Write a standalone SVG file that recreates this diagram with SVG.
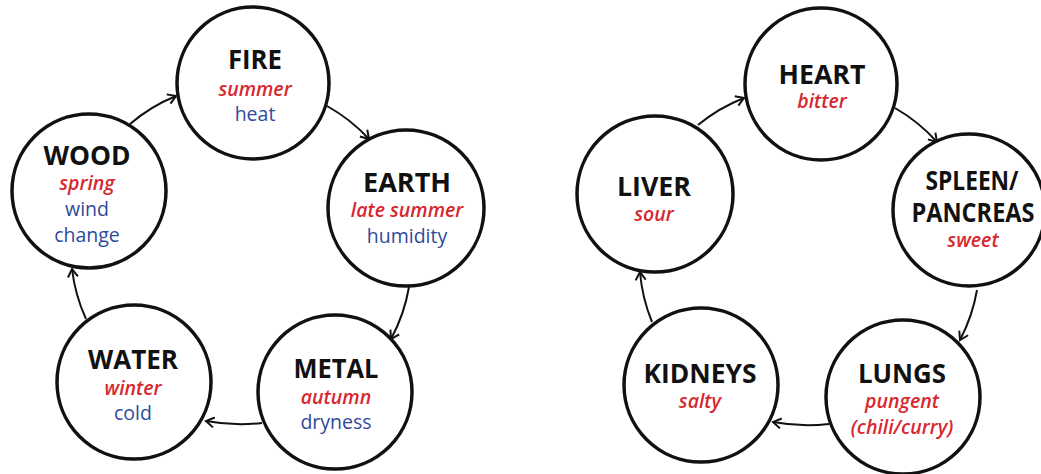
<svg xmlns="http://www.w3.org/2000/svg" width="1041" height="474" viewBox="0 0 1041 474">
  <style>
    .node { fill: #ffffff; stroke: #111111; stroke-width: 3.5; }
    .title { font-family: "Open Sans", "Liberation Sans", sans-serif; font-weight: 700; font-size: 26px; fill: #111111; text-anchor: middle; }
    .red { font-family: "Open Sans", "Liberation Sans", sans-serif; font-weight: 600; font-style: italic; font-size: 19.5px; fill: #d7282f; text-anchor: middle; }
    .blue { font-family: "Open Sans", "Liberation Sans", sans-serif; font-weight: 400; font-size: 19.5px; fill: #2e4a9a; text-anchor: middle; }
    .conn { fill: none; stroke: #111111; stroke-width: 2; }
  </style>
  <defs>
    <marker id="arrow" markerUnits="userSpaceOnUse" markerWidth="14" markerHeight="14" refX="0" refY="0" viewBox="-10 -7 12 14" orient="auto">
      <path d="M -8 -5 L 0 0 L -8 5" fill="none" stroke="#111111" stroke-width="2" stroke-linejoin="miter"/>
    </marker>
  </defs>
  <rect width="1041" height="474" fill="#ffffff"/>

  <g id="connectors">
    <path class="conn" d="M130,124 A168,168 0 0 1 176,96" marker-end="url(#arrow)"/>
    <path class="conn" d="M327,106 A168,168 0 0 1 369,139" marker-end="url(#arrow)"/>
    <path class="conn" d="M409,287 A168,168 0 0 1 391,339" marker-end="url(#arrow)"/>
    <path class="conn" d="M262,423 A190,190 0 0 1 206,421" marker-end="url(#arrow)"/>
    <path class="conn" d="M86,319 A168,168 0 0 1 72,269" marker-end="url(#arrow)"/>

    <path class="conn" d="M698,125 A169,169 0 0 1 744,98" marker-end="url(#arrow)"/>
    <path class="conn" d="M895,108 A169,169 0 0 1 937,142" marker-end="url(#arrow)"/>
    <path class="conn" d="M977,290 A169,169 0 0 1 960,340" marker-end="url(#arrow)"/>
    <path class="conn" d="M829,424 A190,190 0 0 1 773,422" marker-end="url(#arrow)"/>
    <path class="conn" d="M652,322 A169,169 0 0 1 640,272" marker-end="url(#arrow)"/>
  </g>

  <g id="fire">
    <circle class="node" cx="253" cy="83" r="76"/>
    <text class="title" x="255" y="69" textLength="54" lengthAdjust="spacingAndGlyphs">FIRE</text>
    <text class="red" x="255" y="96">summer</text>
    <text class="blue" x="255" y="121">heat</text>
  </g>
  <g id="wood">
    <circle class="node" cx="89" cy="191" r="77"/>
    <text class="title" x="87" y="165" textLength="87" lengthAdjust="spacingAndGlyphs">WOOD</text>
    <text class="red" x="87" y="190">spring</text>
    <text class="blue" x="87" y="216">wind</text>
    <text class="blue" x="87" y="242">change</text>
  </g>
  <g id="earth">
    <circle class="node" cx="406" cy="208" r="78"/>
    <text class="title" x="407" y="192" textLength="88" lengthAdjust="spacingAndGlyphs">EARTH</text>
    <text class="red" x="407" y="217">late summer</text>
    <text class="blue" x="407" y="243">humidity</text>
  </g>
  <g id="metal">
    <circle class="node" cx="335" cy="392" r="77"/>
    <text class="title" x="336" y="378" textLength="85" lengthAdjust="spacingAndGlyphs">METAL</text>
    <text class="red" x="336" y="404">autumn</text>
    <text class="blue" x="336" y="429">dryness</text>
  </g>
  <g id="water">
    <circle class="node" cx="134" cy="382" r="77"/>
    <text class="title" x="133" y="369" textLength="90" lengthAdjust="spacingAndGlyphs">WATER</text>
    <text class="red" x="133" y="395">winter</text>
    <text class="blue" x="133" y="420">cold</text>
  </g>

  <g id="heart">
    <circle class="node" cx="821" cy="84" r="76"/>
    <text class="title" x="822" y="84" textLength="87" lengthAdjust="spacingAndGlyphs">HEART</text>
    <text class="red" x="822" y="108">bitter</text>
  </g>
  <g id="spleen">
    <circle class="node" cx="969" cy="210" r="76"/>
    <text class="title" x="972" y="190" textLength="93" lengthAdjust="spacingAndGlyphs">SPLEEN/</text>
    <text class="title" x="973" y="222" textLength="123" lengthAdjust="spacingAndGlyphs">PANCREAS</text>
    <text class="red" x="973" y="247">sweet</text>
  </g>
  <g id="lungs">
    <circle class="node" cx="903" cy="397" r="77"/>
    <text class="title" x="902" y="383" textLength="88" lengthAdjust="spacingAndGlyphs">LUNGS</text>
    <text class="red" x="902" y="408">pungent</text>
    <text class="red" x="902" y="434">(chili/curry)</text>
  </g>
  <g id="kidneys">
    <circle class="node" cx="701" cy="385" r="77"/>
    <text class="title" x="700" y="383" textLength="113" lengthAdjust="spacingAndGlyphs">KIDNEYS</text>
    <text class="red" x="700" y="408">salty</text>
  </g>
  <g id="liver">
    <circle class="node" cx="655" cy="194" r="78"/>
    <text class="title" x="654" y="196" textLength="74" lengthAdjust="spacingAndGlyphs">LIVER</text>
    <text class="red" x="654" y="221">sour</text>
  </g>
</svg>
